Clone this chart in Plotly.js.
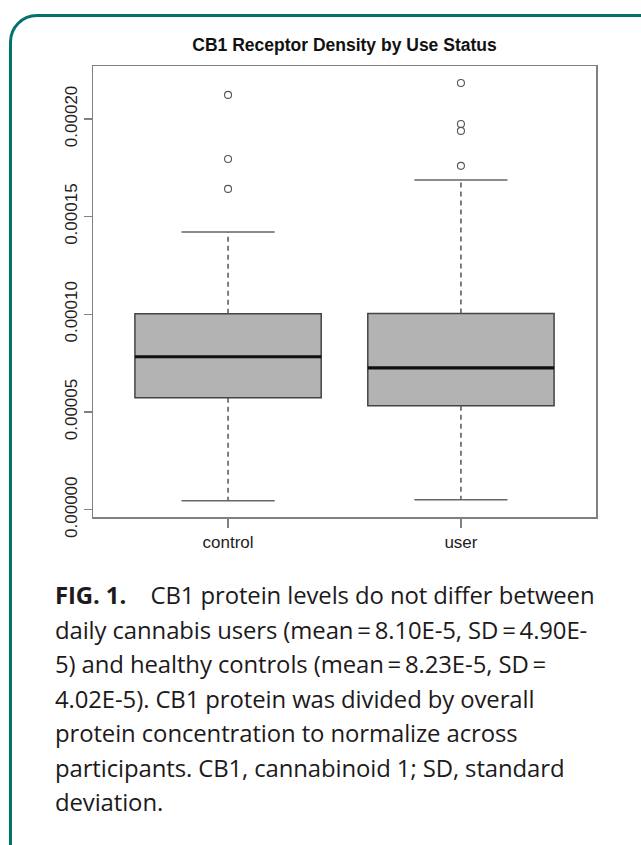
<!DOCTYPE html>
<html>
<head>
<meta charset="utf-8">
<script src="https://cdn.plot.ly/plotly-3.0.1.min.js"></script>
<style>
  html, body { margin: 0; padding: 0; background: #ffffff; width: 641px; height: 845px; overflow: hidden; position: relative; }
  #card { position: absolute; left: 9px; top: 14px; width: 660px; height: 860px; border: 3px solid #00736d; border-radius: 28px; box-sizing: border-box; }
  #chart { position: absolute; left: 0; top: 0; width: 641px; height: 580px; }
  #caption { position: absolute; left: 55px; top: 578px; font-family: "Open Sans", "Noto Sans", sans-serif; font-size: 23.9px; letter-spacing: -0.1px; line-height: 34.5px; color: #1d1a1b; white-space: nowrap; }
  #caption b { font-weight: 700; }
</style>
</head>
<body>
<div id="card"></div>
<div id="chart"></div>
<div id="caption"><b>FIG. 1.</b>&nbsp;&nbsp;&nbsp;&nbsp;CB1 protein levels do not differ between<br>daily cannabis users (mean&thinsp;=&thinsp;8.10E-5, SD&thinsp;=&thinsp;4.90E-<br>5) and healthy controls (mean&thinsp;=&thinsp;8.23E-5, SD&thinsp;=<br>4.02E-5). CB1 protein was divided by overall<br>protein concentration to normalize across<br>participants. CB1, cannabinoid 1; SD, standard<br>deviation.</div>
<script>
// ---- data ----
const categories = ["control", "user"];
const q1 = [0.0000573, 0.0000532];
const median = [0.0000783, 0.0000726];
const q3 = [0.0001003, 0.0001005];
const lowerWhisker = [0.0000046, 0.0000051];
const upperWhisker = [0.0001422, 0.0001688];
const outliersControl = [0.0002123, 0.0001795, 0.0001642];
const outliersUser = [0.0002184, 0.0001974, 0.0001939, 0.0001760];
const yTickVals = [0, 0.00005, 0.00010, 0.00015, 0.00020];

// ---- build traces ----
const pos = categories.map((c, i) => i + 1);
const boxHalf = 0.4, capHalf = 0.2;

const boxTrace = {
  type: "box", x: pos, q1: q1, median: median, q3: q3,
  lowerfence: q1, upperfence: q3,
  width: 2 * boxHalf, fillcolor: "rgb(179,179,179)",
  line: { color: "#444444", width: 1.5 },
  boxpoints: false, showlegend: false, hoverinfo: "skip"
};

function segs(fn) {
  const xs = [], ys = [];
  pos.forEach((p, i) => { const s = fn(p, i); s.forEach(seg => { xs.push(seg[0][0], seg[1][0], null); ys.push(seg[0][1], seg[1][1], null); }); });
  return { xs, ys };
}

const med = segs((p, i) => [[[p - boxHalf, median[i]], [p + boxHalf, median[i]]]]);
const medTrace = { type: "scatter", mode: "lines", x: med.xs, y: med.ys, line: { color: "#111111", width: 3.2 }, showlegend: false, hoverinfo: "skip" };

const wh = segs((p, i) => [[[p, q3[i]], [p, upperWhisker[i]]], [[p, q1[i]], [p, lowerWhisker[i]]]]);
const whTrace = { type: "scatter", mode: "lines", x: wh.xs, y: wh.ys, line: { color: "#555555", width: 1.5, dash: "5px,4px" }, showlegend: false, hoverinfo: "skip" };

const cap = segs((p, i) => [[[p - capHalf, upperWhisker[i]], [p + capHalf, upperWhisker[i]]], [[p - capHalf, lowerWhisker[i]], [p + capHalf, lowerWhisker[i]]]]);
const capTrace = { type: "scatter", mode: "lines", x: cap.xs, y: cap.ys, line: { color: "#666666", width: 1.5 }, showlegend: false, hoverinfo: "skip" };

const outX = outliersControl.map(() => pos[0]).concat(outliersUser.map(() => pos[1]));
const outY = outliersControl.concat(outliersUser);
const outTrace = { type: "scatter", mode: "markers", x: outX, y: outY,
  marker: { symbol: "circle-open", size: 7, color: "#555555", line: { width: 1.1 } }, showlegend: false, hoverinfo: "skip" };

const layout = {
  width: 641, height: 580,
  margin: { l: 93, r: 45, t: 66, b: 63 },
  paper_bgcolor: "rgba(0,0,0,0)", plot_bgcolor: "#ffffff",
  showlegend: false,
  title: { text: "<b>CB1 Receptor Density by Use Status</b>", x: 0.5, xref: "paper", y: 1 - 45 / 580, yref: "container", yanchor: "middle",
           font: { family: "Liberation Sans, Arial, sans-serif", size: 17.5, color: "#111111" } },
  xaxis: {
    range: [0.42, 2.58], tickmode: "array", tickvals: pos, ticktext: categories,
    showline: true, mirror: true, linecolor: "#808080", linewidth: 1.5,
    ticks: "outside", ticklen: 9, tickcolor: "#808080", tickwidth: 1.3,
    showgrid: false, zeroline: false,
    tickfont: { family: "Liberation Sans, Arial, sans-serif", size: 17, color: "#222222" }
  },
  yaxis: {
    range: [-0.0000037, 0.0002271], tickmode: "array", tickvals: yTickVals,
    tickformat: ".5f", tickangle: -90,
    showline: true, mirror: true, linecolor: "#808080", linewidth: 1.5,
    ticks: "outside", ticklen: 8, tickcolor: "#808080", tickwidth: 1.3,
    showgrid: false, zeroline: false,
    tickfont: { family: "Liberation Sans, Arial, sans-serif", size: 17, color: "#222222" }
  }
};

Plotly.newPlot("chart", [boxTrace, whTrace, capTrace, medTrace, outTrace], layout, { staticPlot: true, displayModeBar: false });
</script>
</body>
</html>
